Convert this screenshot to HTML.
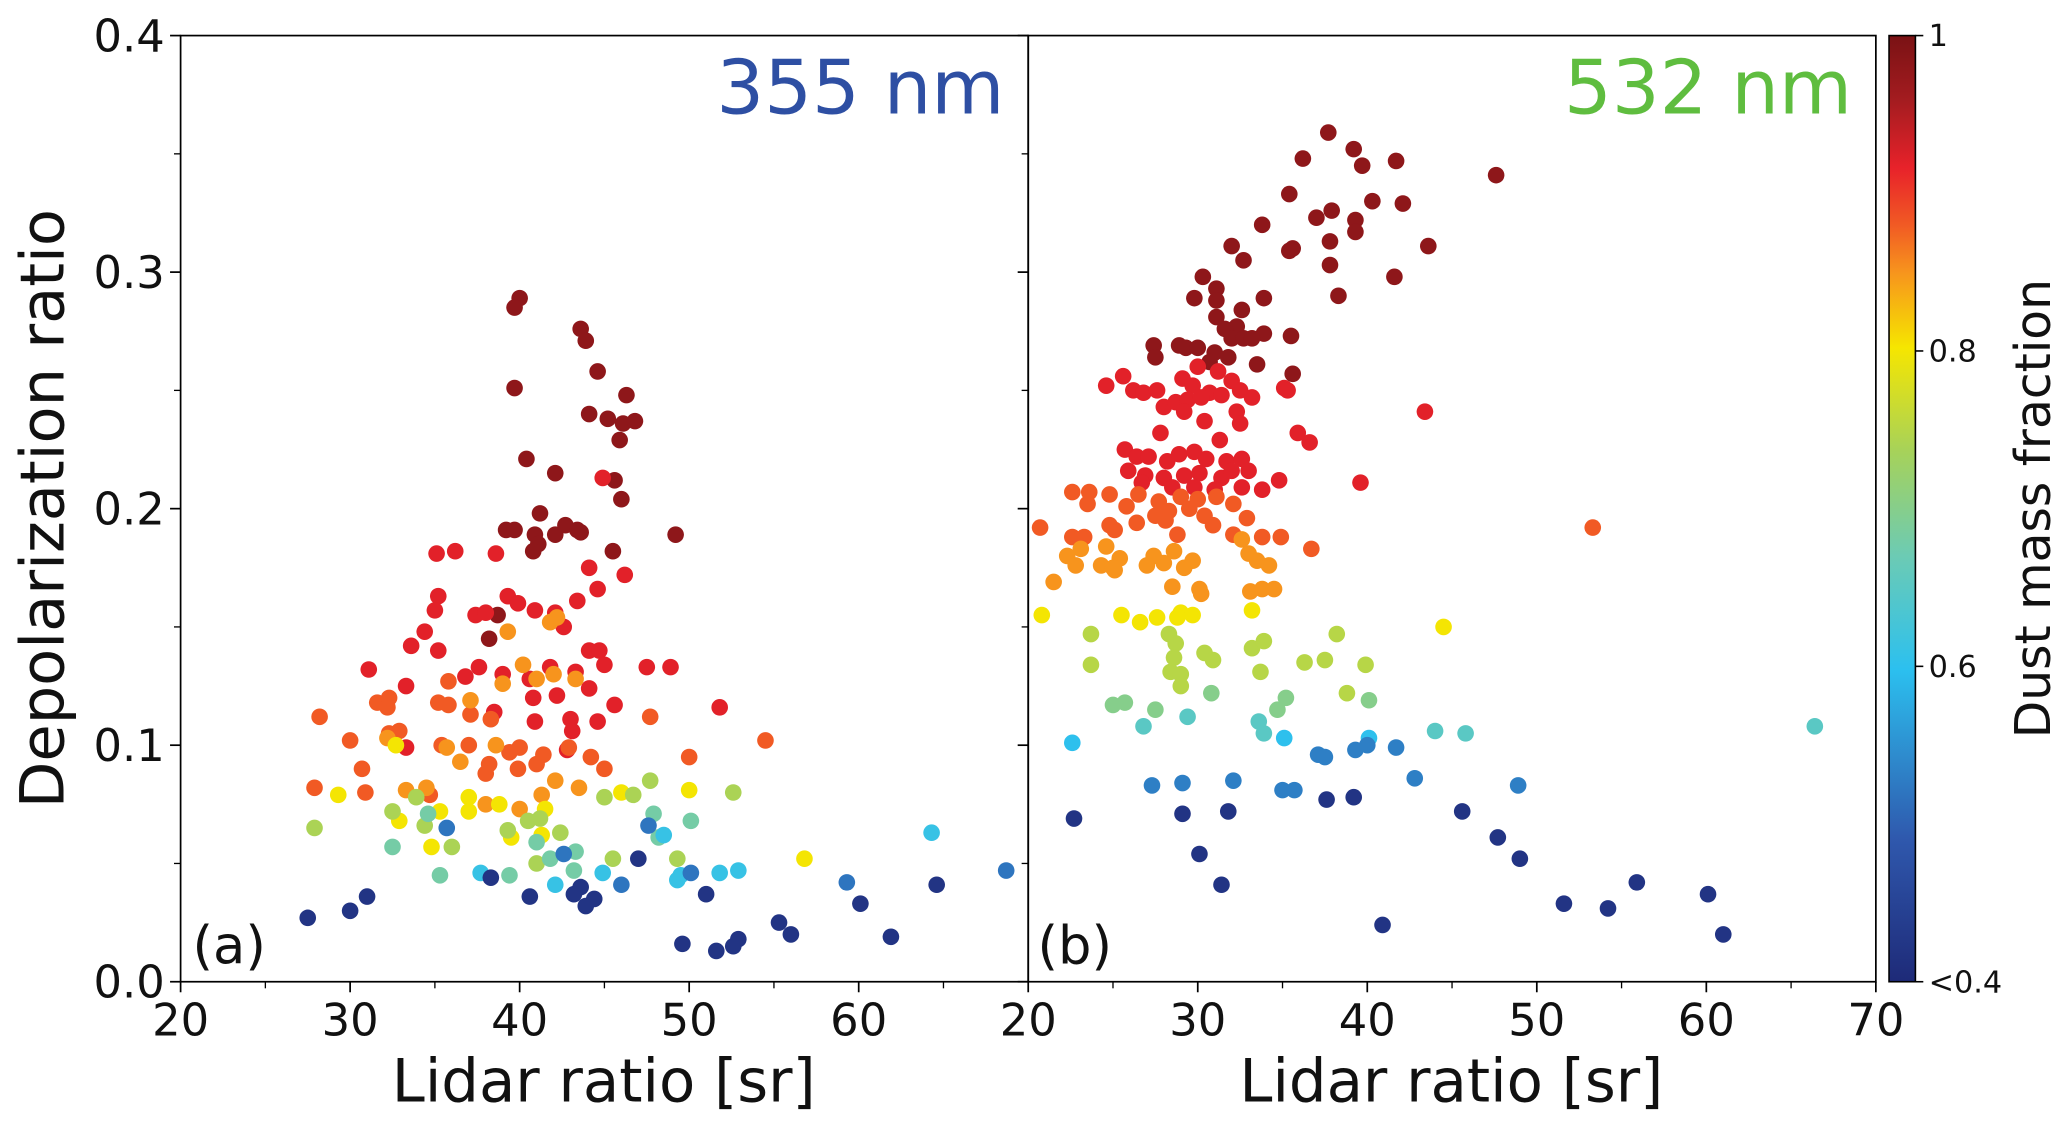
<!DOCTYPE html>
<html><head><meta charset="utf-8"><style>
html,body{margin:0;padding:0;background:#fff;}
svg{display:block;font-family:"DejaVu Sans","Liberation Sans",sans-serif;}
</style></head><body>
<svg id="chart" width="2067" height="1128" viewBox="0 0 1568 856" preserveAspectRatio="none" xmlns="http://www.w3.org/2000/svg">
<defs>
<linearGradient id="cbgrad" x1="0" y1="1" x2="0" y2="0">
<stop offset="0" stop-color="#1e2a78"/><stop offset="0.15" stop-color="#2f58ad"/>
<stop offset="0.33" stop-color="#2cc0ef"/><stop offset="0.45" stop-color="#6ccbb4"/>
<stop offset="0.56" stop-color="#a6d25a"/><stop offset="0.67" stop-color="#f6e600"/>
<stop offset="0.75" stop-color="#f7941d"/><stop offset="0.8" stop-color="#f15a24"/>
<stop offset="0.86" stop-color="#e8222a"/><stop offset="0.93" stop-color="#a51c20"/>
<stop offset="1" stop-color="#7a1214"/>
</linearGradient>
</defs>
<g id="marks"></g>
<g id="axes"></g>
</svg>
<script>
const NS="http://www.w3.org/2000/svg";
// Panel (a) 355 nm
const aX=[40.0,39.7,39.7,43.6,43.9,44.6,46.3,44.1,45.2,46.1,46.8,45.9,40.4,42.1,45.6,46.0,41.2,39.2,39.7,40.9,42.1,42.7,43.4,43.6,45.5,41.1,49.2,40.8,38.7,38.2,
35.1,36.2,38.6,44.9,44.1,44.6,46.2,39.3,39.9,35.2,35.0,34.4,33.6,35.2,37.4,38.0,40.9,42.1,43.4,42.6,44.1,44.7,45.0,47.5,48.9,31.1,33.3,36.8,37.6,39.0,40.6,41.8,43.3,44.1,40.8,42.2,43.0,44.6,45.6,43.1,38.5,33.3,42.8,40.9,51.8,
28.2,27.9,31.6,32.3,32.2,30.0,32.3,32.9,35.2,35.8,35.8,37.1,38.3,40.0,39.4,42.9,44.2,45.0,47.7,50.0,54.5,30.7,30.9,34.7,35.4,37.0,38.2,38.0,39.9,41.0,41.4,
32.2,33.3,34.5,38.0,40.0,41.3,42.1,43.5,38.6,35.7,37.1,39.0,40.2,41.0,42.0,43.3,41.8,42.2,39.3,36.5,
29.3,32.7,32.9,34.8,35.3,37.0,38.8,39.5,41.3,46.0,50.0,56.8,37.0,41.5,
27.9,32.5,33.9,34.4,36.0,39.3,40.5,41.2,42.4,45.0,45.5,47.7,46.7,49.3,52.6,41.0,
32.5,35.3,34.6,39.4,41.8,43.3,43.2,47.9,50.1,48.2,41.0,
37.7,42.1,44.9,48.5,49.3,49.5,51.8,52.9,64.3,
35.7,42.6,46.0,47.6,50.1,59.3,68.7,
27.5,30.0,31.0,38.3,40.6,43.2,43.6,43.9,44.4,47.0,49.6,51.0,51.6,52.6,52.9,55.3,56.0,60.1,61.9,64.6];
const aY=[0.289,0.285,0.251,0.276,0.271,0.258,0.248,0.240,0.238,0.236,0.237,0.229,0.221,0.215,0.212,0.204,0.198,0.191,0.191,0.189,0.189,0.193,0.191,0.190,0.182,0.185,0.189,0.182,0.155,0.145,
0.181,0.182,0.181,0.213,0.175,0.166,0.172,0.163,0.160,0.163,0.157,0.148,0.142,0.140,0.155,0.156,0.157,0.156,0.161,0.150,0.140,0.140,0.134,0.133,0.133,0.132,0.125,0.129,0.133,0.130,0.128,0.133,0.131,0.124,0.120,0.121,0.111,0.110,0.117,0.106,0.114,0.099,0.098,0.110,0.116,
0.112,0.082,0.118,0.120,0.116,0.102,0.105,0.106,0.118,0.127,0.117,0.113,0.111,0.099,0.097,0.099,0.095,0.090,0.112,0.095,0.102,0.090,0.080,0.079,0.100,0.100,0.092,0.088,0.090,0.092,0.096,
0.103,0.081,0.082,0.075,0.073,0.079,0.085,0.082,0.100,0.099,0.119,0.126,0.134,0.128,0.130,0.128,0.152,0.154,0.148,0.093,
0.079,0.100,0.068,0.057,0.072,0.072,0.075,0.061,0.062,0.080,0.081,0.052,0.078,0.073,
0.065,0.072,0.078,0.066,0.057,0.064,0.068,0.069,0.063,0.078,0.052,0.085,0.079,0.052,0.080,0.050,
0.057,0.045,0.071,0.045,0.052,0.055,0.047,0.071,0.068,0.061,0.059,
0.046,0.041,0.046,0.062,0.043,0.045,0.046,0.047,0.063,
0.065,0.054,0.041,0.066,0.046,0.042,0.047,
0.027,0.030,0.036,0.044,0.036,0.037,0.040,0.032,0.035,0.052,0.016,0.037,0.013,0.015,0.018,0.025,0.020,0.033,0.019,0.041];
const aC=[].concat(Array(30).fill(0.98),Array(45).fill(0.92),Array(31).fill(0.88),Array(20).fill(0.85),Array(14).fill(0.80),Array(16).fill(0.74),Array(11).fill(0.68),Array(9).fill(0.61),Array(7).fill(0.52),Array(20).fill(0.42));
// Panel (b) 532 nm
const bX=[37.7,36.2,39.2,39.7,41.7,47.6,35.4,42.1,40.3,37.9,39.3,37.0,39.3,33.8,37.8,43.6,35.4,35.6,32.7,32.0,37.8,41.6,30.3,31.1,38.3,29.8,31.1,33.9,31.1,32.6,32.3,31.6,32.0,33.9,35.5,32.7,33.2,27.4,28.9,29.3,30.0,31.0,27.5,30.7,31.8,33.5,35.6,
30.0,31.2,32.0,29.1,29.7,30.7,31.4,32.5,33.2,35.1,35.3,24.6,25.6,26.2,26.8,27.6,28.0,28.7,29.4,30.2,29.2,30.4,32.3,32.5,43.4,27.8,31.3,35.9,36.6,25.7,26.4,27.1,28.2,28.9,29.8,30.5,31.7,32.6,25.9,26.9,28.0,29.2,30.1,31.4,32.0,33.0,26.7,28.5,29.8,31.0,32.6,39.6,33.8,34.8,
22.6,23.6,24.8,26.5,27.7,29.0,30.0,31.1,32.1,23.5,25.8,27.5,28.3,29.5,30.4,32.9,26.4,28.1,30.9,24.8,28.8,25.1,32.1,33.8,34.9,36.7,20.7,53.3,22.6,23.3,
22.3,23.1,24.6,25.4,27.4,28.6,29.2,32.6,33.0,33.5,34.2,22.8,24.3,25.1,28.0,29.7,21.5,25.0,27.0,28.5,30.1,30.2,33.1,33.8,34.5,
20.8,25.5,26.6,27.6,29.0,29.7,28.8,33.2,44.5,
23.7,28.3,28.7,28.6,30.4,30.9,33.2,33.9,38.2,23.7,28.4,29.0,33.7,36.3,37.5,39.9,38.8,29.0,
25.0,25.7,27.5,30.8,35.2,34.7,40.1,
26.8,29.4,33.6,33.9,44.0,45.8,66.4,
35.1,40.1,22.6,
40.0,41.7,37.1,37.5,39.3,27.3,29.1,32.1,35.0,35.7,42.8,48.9,
22.7,29.1,31.8,37.6,39.2,45.6,47.7,49.0,30.1,31.4,40.9,51.6,54.2,55.9,60.1,61.0];
const bY=[0.359,0.348,0.352,0.345,0.347,0.341,0.333,0.329,0.330,0.326,0.322,0.323,0.317,0.320,0.313,0.311,0.309,0.310,0.305,0.311,0.303,0.298,0.298,0.293,0.290,0.289,0.288,0.289,0.281,0.284,0.277,0.276,0.272,0.274,0.273,0.272,0.272,0.269,0.269,0.268,0.268,0.266,0.264,0.262,0.264,0.261,0.257,
0.260,0.258,0.254,0.255,0.252,0.249,0.248,0.250,0.247,0.251,0.250,0.252,0.256,0.250,0.249,0.250,0.243,0.245,0.246,0.247,0.241,0.237,0.241,0.236,0.241,0.232,0.229,0.232,0.228,0.225,0.222,0.222,0.220,0.223,0.224,0.221,0.220,0.221,0.216,0.214,0.213,0.214,0.215,0.213,0.216,0.216,0.211,0.209,0.209,0.208,0.209,0.211,0.208,0.212,
0.207,0.207,0.206,0.206,0.203,0.205,0.204,0.205,0.202,0.202,0.201,0.197,0.199,0.200,0.197,0.196,0.194,0.195,0.193,0.193,0.189,0.191,0.189,0.188,0.188,0.183,0.192,0.192,0.188,0.188,
0.180,0.183,0.184,0.179,0.180,0.182,0.175,0.187,0.181,0.178,0.176,0.176,0.176,0.174,0.177,0.178,0.169,0.175,0.176,0.167,0.166,0.164,0.165,0.166,0.166,
0.155,0.155,0.152,0.154,0.156,0.155,0.154,0.157,0.150,
0.147,0.147,0.143,0.137,0.139,0.136,0.141,0.144,0.147,0.134,0.131,0.130,0.131,0.135,0.136,0.134,0.122,0.125,
0.117,0.118,0.115,0.122,0.120,0.115,0.119,
0.108,0.112,0.110,0.105,0.106,0.105,0.108,
0.103,0.103,0.101,
0.100,0.099,0.096,0.095,0.098,0.083,0.084,0.085,0.081,0.081,0.086,0.083,
0.069,0.071,0.072,0.077,0.078,0.072,0.061,0.052,0.054,0.041,0.024,0.033,0.031,0.042,0.037,0.020];
const bC=[].concat(Array(47).fill(0.98),Array(54).fill(0.92),Array(30).fill(0.88),Array(25).fill(0.85),Array(9).fill(0.80),Array(18).fill(0.75),Array(7).fill(0.70),Array(7).fill(0.65),Array(3).fill(0.60),Array(12).fill(0.53),Array(16).fill(0.42));
const xTicksA=[20,30,40,50,60];
const xTicksB=[20,30,40,50,60,70];
const yTicks=[0.0,0.1,0.2,0.3,0.4];
const cbTicks=[1,0.8,0.6,0.4];
const cbLabels=["1","0.8","0.6","<0.4"];

const TOP=27,BOT=745,AL=137,BL=780,W=643;
function sx(x0,v){return x0+(v-20)/50*W;}
function sy(v){return BOT-(v/0.4)*(BOT-TOP);}
const stops=[[0,[30,42,120]],[0.15,[47,88,173]],[0.33,[44,192,239]],[0.45,[108,203,180]],[0.56,[166,210,90]],[0.67,[246,230,0]],[0.75,[247,148,29]],[0.8,[241,90,36]],[0.86,[232,34,42]],[0.93,[165,28,32]],[1,[122,18,20]]];
function cmap(c){let t=Math.max(0,Math.min(1,(c-0.4)/0.6));for(let i=1;i<stops.length;i++){if(t<=stops[i][0]){const a=stops[i-1],b=stops[i];const f=(t-a[0])/(b[0]-a[0]);return 'rgb('+a[1].map((v,k)=>Math.round(v+(b[1][k]-v)*f)).join(',')+')';}}return 'rgb(122,18,20)';}
function el(tag,attrs,parent,text){const e=document.createElementNS(NS,tag);for(const k in attrs)e.setAttribute(k,attrs[k]);if(text!==undefined)e.textContent=text;parent.appendChild(e);return e;}
const marks=document.getElementById('marks'),axes=document.getElementById('axes');
function drawPoints(X,Y,C,x0,xmax,name){const g=el('g',{},marks);


for(let i=0;i<X.length;i++){if(X[i]>xmax)continue;const p=el('circle',{cx:sx(x0,X[i]),cy:sy(Y[i]),r:6.3,fill:cmap(C[i])},g);

}}
drawPoints(aX,aY,aC,AL,70,'points-355nm');
drawPoints(bX,bY,bC,BL,70,'points-532nm');
const fa=el('rect',{x:AL,y:TOP,width:W,height:BOT-TOP,fill:'none',stroke:'#000','stroke-width':1.3},axes);


const fb=el('rect',{x:BL,y:TOP,width:W,height:BOT-TOP,fill:'none',stroke:'#000','stroke-width':1.3},axes);


yTicks.forEach(v=>{const y=sy(v);el('line',{x1:AL-8,x2:AL,y1:y,y2:y,stroke:'#000','stroke-width':1.3},axes);el('line',{x1:BL-8,x2:BL,y1:y,y2:y,stroke:'#000','stroke-width':1.3},axes);
const t=el('text',{x:AL-12,y:y+12,'font-size':34,'text-anchor':'end',fill:'#111'},axes,v.toFixed(1));

});
for(let v=0.05;v<0.4;v+=0.1){const y=sy(v);el('line',{x1:AL-5,x2:AL,y1:y,y2:y,stroke:'#000','stroke-width':1},axes);el('line',{x1:BL-5,x2:BL,y1:y,y2:y,stroke:'#000','stroke-width':1},axes);}
function xt(x0,ticks){for(let v=25;v<70;v+=10){const x=sx(x0,v);el('line',{x1:x,x2:x,y1:BOT,y2:BOT+5,stroke:'#000','stroke-width':1},axes);}
ticks.forEach(v=>{const x=sx(x0,v);el('line',{x1:x,x2:x,y1:BOT,y2:BOT+8,stroke:'#000','stroke-width':1.3},axes);
const t=el('text',{x:x,y:BOT+41,'font-size':34,'text-anchor':'middle',fill:'#111'},axes,String(v));

});}
xt(AL,xTicksA);xt(BL,xTicksB);
const CBX=1433,CBW=20;
const cb=el('rect',{x:CBX,y:TOP,width:CBW,height:BOT-TOP,fill:'url(#cbgrad)',stroke:'#000','stroke-width':1.2},axes);


cbTicks.forEach((v,i)=>{const y=BOT-(v-0.4)/0.6*(BOT-TOP);el('line',{x1:CBX+CBW,x2:CBX+CBW+6,y1:y,y2:y,stroke:'#000','stroke-width':1.2},axes);
const t=el('text',{x:CBX+CBW+10,y:y+8,'font-size':23,fill:'#111'},axes,cbLabels[i]);

});
function T(attrs,txt,name){const t=el('text',attrs,axes,txt);

}
T({x:762,y:86,'font-size':57,'text-anchor':'end',fill:'#2e4fa3'},'355 nm','title-355nm');
T({x:1405,y:86,'font-size':57,'text-anchor':'end',fill:'#5fbd3f'},'532 nm','title-532nm');
T({x:146,y:731,'font-size':40,fill:'#111'},'(a)','panel-a-label');
T({x:787,y:731,'font-size':40,fill:'#111'},'(b)','panel-b-label');
T({x:458,y:836,'font-size':45,'text-anchor':'middle',fill:'#111'},'Lidar ratio [sr]','x-axis-title-a');
T({x:1101,y:836,'font-size':45,'text-anchor':'middle',fill:'#111'},'Lidar ratio [sr]','x-axis-title-b');
T({x:48,y:386,'font-size':46,'text-anchor':'middle',fill:'#111',transform:'rotate(-90 48 386)'},'Depolarization ratio','y-axis-title');
T({x:1555,y:386,'font-size':37,'text-anchor':'middle',fill:'#111',transform:'rotate(-90 1555 386)'},'Dust mass fraction','colorbar-title');
</script>
</body></html>
